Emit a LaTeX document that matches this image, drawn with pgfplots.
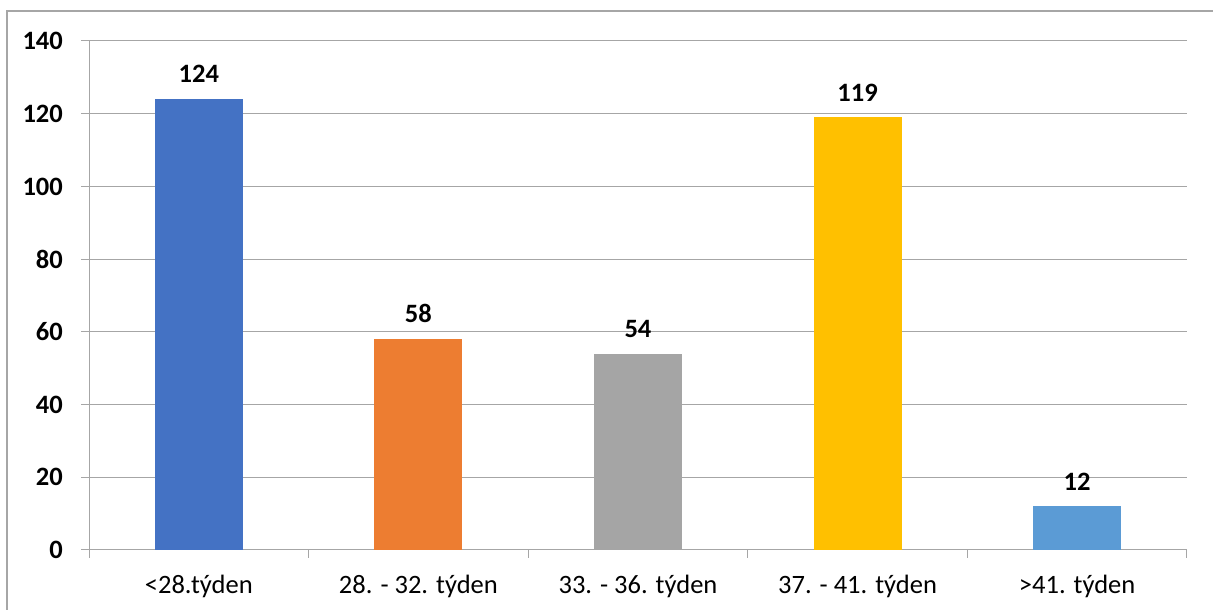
\documentclass[border=0pt]{standalone}
\usepackage{pgfplots}
\pgfplotsset{compat=1.18}
\usepackage{fontspec}
\setmainfont{Carlito}
\definecolor{cBlue}{HTML}{4472C4}
\definecolor{cOrange}{HTML}{ED7D31}
\definecolor{cGray}{HTML}{A5A5A5}
\definecolor{cGold}{HTML}{FFC000}
\definecolor{cLight}{HTML}{5B9BD5}
\definecolor{lineGray}{HTML}{A6A6A6}
\begin{document}
\begin{tikzpicture}[x=1pt,y=1pt]
\path[use as bounding box] (0,0) rectangle (1213,610);
\draw[lineGray, line width=1.2pt] (7,-2) -- (7,599) -- (1215,599);
\begin{axis}[
  at={(89pt,60pt)}, anchor=south west,
  scale only axis, width=1098pt, height=509pt,
  xmin=-0.5, xmax=4.5, ymin=0, ymax=140,
  ytick={0,20,...,140},
  xtick={0,1,2,3,4},
  xticklabels={{<28.týden},{28. - 32. týden},{33. - 36. týden},{37. - 41. týden},{>41. týden}},
  axis lines=left,
  axis line style={-, lineGray, line width=1pt},
  ymajorgrids, grid style={lineGray, line width=1pt},
  tick style={lineGray, line width=1pt},
  tick align=outside,
  major tick length=8pt,
  xtick style={draw=none},
  extra x ticks={-0.5,0.5,1.5,2.5,3.5,4.5},
  extra x tick labels={},
  extra x tick style={grid=none, tick align=outside, xtick style={draw=lineGray}},
  /pgf/number format/assume math mode=true,
  yticklabel style={font=\fontsize{26.5}{30}\selectfont\bfseries, black, inner sep=0pt, xshift=-18pt},
  xticklabel style={font=\fontsize{26.5}{30}\selectfont, black, inner sep=0pt, yshift=-17pt},
  ybar, bar width=88pt, bar shift=0pt,
  nodes near coords,
  nodes near coords style={font=\fontsize{26.5}{30}\selectfont\bfseries, black, anchor=south, inner sep=0pt, yshift=16pt},
  clip=false,
]
\addplot[fill=cBlue, draw=none] coordinates {(0,124)};
\addplot[fill=cOrange, draw=none] coordinates {(1,58)};
\addplot[fill=cGray, draw=none] coordinates {(2,54)};
\addplot[fill=cGold, draw=none] coordinates {(3,119)};
\addplot[fill=cLight, draw=none] coordinates {(4,12)};
\end{axis}
\end{tikzpicture}
\end{document}
